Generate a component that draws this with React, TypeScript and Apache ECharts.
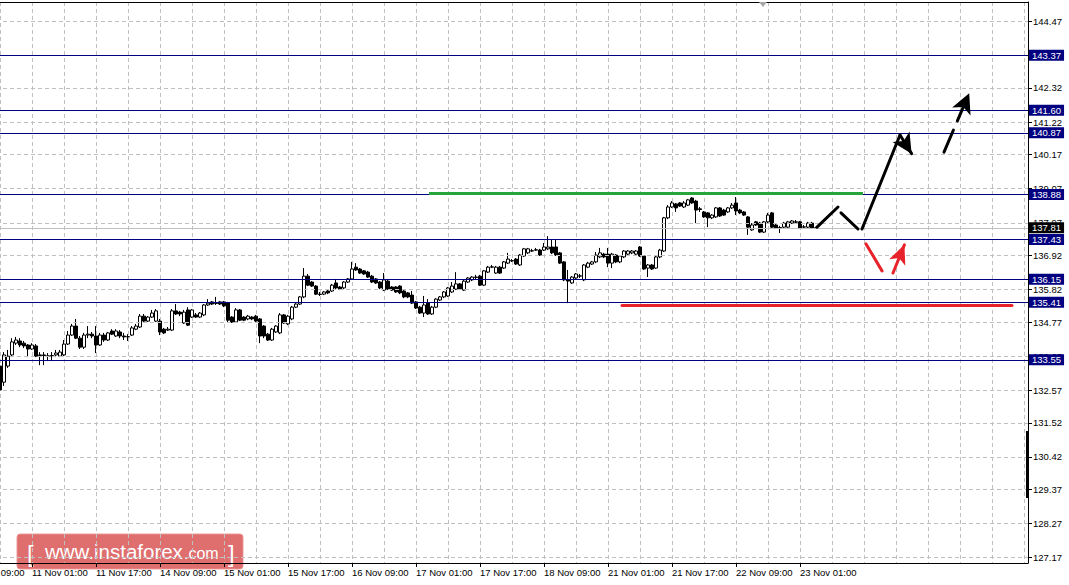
import React, { useEffect, useRef } from "react";
import * as echarts from "echarts";

// ---------- data ----------
const LEAD = 8; // hourly slots left of the visible window (off-screen)
const SLOTS = 266; // total hourly slots on the time axis (incl. empty chart shift)
const YMIN = 127.0;
const YMAX = 145.09;

const timeTickLabels = [
  "10 Nov 09:00", "11 Nov 01:00", "11 Nov 17:00", "14 Nov 09:00", "15 Nov 01:00",
  "15 Nov 17:00", "16 Nov 09:00", "17 Nov 01:00", "17 Nov 17:00", "18 Nov 09:00",
  "21 Nov 01:00", "21 Nov 17:00", "22 Nov 09:00", "23 Nov 01:00",
];

const priceTicks = [
  144.47, 143.37, 142.32, 141.22, 140.17, 139.07, 137.97, 136.92, 135.82,
  134.77, 133.67, 132.57, 131.52, 130.42, 129.37, 128.27, 127.17,
];

const levels = [143.37, 141.6, 140.87, 138.88, 137.43, 136.15, 135.41, 133.55];
const bidPrice = 137.81;

// horizontal zones [fromBar, toBar, price]
const greenZone = [107.25, 215.75, 138.93];
const redZone = [155.5, 253, 135.32];

// projected path, [bar, price] pairs
const blackStrokes = [
  [[204.25, 137.83], [209.5, 138.48]],
  [[210.25, 138.29], [214.5, 137.77]],
  [[215.5, 137.77], [225, 140.8]],
];
const blackArrows = [[[225, 140.8], [227.9, 140.2]]];
const blackDashedArrows = [[[236, 140.25], [242.3, 142.15]]];
const redStrokes = [[[216.5, 137.29], [220.5, 136.42]]];
const redArrows = [[[223.25, 136.35], [226.1, 137.26]]];

// hourly candles: [open, close, low, high]
const ohlc = [
  [133.35, 132.58, 132.38, 133.45], [132.83, 133.71, 132.71, 133.8], [133.35, 133.67, 133.29, 133.87], [133.71, 134.13, 133.67, 134.25], [134.09, 134.19, 134.03, 134.29],
  [134.16, 134.03, 133.96, 134.25], [134.09, 134.0, 133.93, 134.16], [134.03, 133.9, 133.64, 134.06], [133.9, 134.03, 133.87, 134.09], [134.0, 133.67, 133.64, 134.06],
  [133.71, 133.69, 133.38, 133.8], [133.69, 133.71, 133.38, 133.8], [133.67, 133.68, 133.51, 133.77], [133.67, 133.69, 133.51, 133.8], [133.71, 133.77, 133.64, 133.87],
  [133.67, 133.8, 133.64, 133.87], [133.71, 134.06, 133.67, 134.19], [134.06, 134.35, 134.03, 134.48], [134.35, 134.64, 134.32, 134.71], [134.64, 134.25, 134.22, 134.87],
  [134.25, 133.96, 133.9, 134.32], [133.96, 134.35, 133.9, 134.42], [134.35, 134.38, 134.25, 134.64], [134.38, 134.32, 134.25, 134.45], [134.32, 134.03, 133.77, 134.64],
  [134.03, 134.35, 134.0, 134.42], [134.35, 134.19, 134.13, 134.42], [134.19, 134.42, 134.16, 134.45], [134.48, 134.38, 134.35, 134.54], [134.32, 134.48, 134.29, 134.54],
  [134.45, 134.32, 134.25, 134.51], [134.32, 134.29, 134.19, 134.42], [134.29, 134.3, 134.16, 134.38], [134.35, 134.58, 134.32, 134.64], [134.54, 134.64, 134.51, 134.71],
  [134.61, 134.96, 134.58, 135.03], [134.96, 134.8, 134.77, 135.03], [134.8, 134.93, 134.77, 134.96], [134.93, 135.06, 134.9, 135.16], [134.8, 135.13, 134.77, 135.19],
  [134.8, 134.45, 134.35, 134.87], [134.54, 134.42, 134.38, 134.58], [134.51, 134.54, 134.48, 134.61], [134.51, 135.13, 134.48, 135.19], [135.13, 135.03, 135.0, 135.35],
  [135.09, 135.03, 134.96, 135.13], [134.74, 135.09, 134.71, 135.16], [135.16, 134.67, 134.64, 135.25], [134.93, 135.16, 134.9, 135.19], [135.0, 134.93, 134.9, 135.06],
  [134.93, 135.06, 134.9, 135.09], [135.0, 135.32, 134.96, 135.35], [135.32, 135.38, 135.29, 135.51], [135.42, 135.35, 135.32, 135.45], [135.37, 135.38, 135.32, 135.58],
  [135.42, 135.35, 135.32, 135.45], [135.42, 135.29, 135.25, 135.45], [135.38, 134.83, 134.74, 135.42], [134.93, 134.77, 134.74, 134.96], [134.77, 135.16, 134.74, 135.22],
  [135.16, 134.83, 134.8, 135.19], [134.93, 134.83, 134.8, 134.96], [134.87, 134.96, 134.83, 135.0], [134.93, 134.87, 134.83, 134.96], [134.96, 134.8, 134.77, 135.0],
  [134.87, 134.32, 134.09, 134.9], [134.64, 134.32, 134.25, 134.67], [134.38, 134.19, 134.16, 134.42], [134.19, 134.54, 134.16, 134.58], [134.45, 134.64, 134.42, 134.67],
  [134.42, 135.0, 134.38, 135.06], [135.0, 134.74, 134.71, 135.03], [134.71, 134.96, 134.67, 135.0], [134.87, 135.25, 134.83, 135.29], [135.25, 135.35, 135.22, 135.38],
  [135.35, 135.58, 135.32, 135.61], [135.58, 136.25, 135.54, 136.51], [136.25, 135.96, 135.93, 136.32], [136.06, 135.93, 135.9, 136.09], [135.93, 135.67, 135.64, 135.96],
  [135.67, 135.66, 135.61, 135.74], [135.67, 135.74, 135.64, 135.77], [135.77, 135.71, 135.67, 135.8], [135.77, 135.96, 135.74, 136.0], [136.03, 135.87, 135.83, 136.16],
  [135.9, 135.83, 135.8, 135.93], [135.87, 136.06, 135.83, 136.09], [136.06, 136.16, 136.03, 136.19], [136.16, 136.48, 136.13, 136.71], [136.54, 136.45, 136.42, 136.67],
  [136.48, 136.35, 136.32, 136.51], [136.42, 136.32, 136.29, 136.45], [136.38, 136.22, 136.19, 136.42], [136.25, 136.06, 136.03, 136.29], [136.16, 136.03, 136.0, 136.19],
  [136.06, 135.87, 135.83, 136.09], [135.8, 136.13, 135.77, 136.35], [136.09, 135.83, 135.8, 136.13], [135.9, 135.8, 135.77, 135.93], [135.9, 135.74, 135.71, 135.93],
  [135.93, 135.71, 135.67, 135.96], [135.77, 135.58, 135.54, 135.8], [135.71, 135.58, 135.54, 135.74], [135.64, 135.38, 135.35, 135.77], [135.42, 135.22, 135.19, 135.45],
  [135.25, 135.06, 135.03, 135.29], [135.06, 135.32, 134.93, 135.61], [135.38, 135.03, 135.0, 135.51], [135.03, 135.25, 135.0, 135.29], [135.25, 135.51, 135.22, 135.54],
  [135.48, 135.58, 135.45, 135.61], [135.58, 135.74, 135.54, 135.77], [135.61, 135.87, 135.58, 135.9], [135.74, 135.93, 135.71, 136.06], [135.83, 136.0, 135.8, 136.38],
  [136.0, 135.83, 135.8, 136.03], [135.8, 136.09, 135.77, 136.13], [136.06, 136.19, 136.03, 136.22], [136.13, 136.22, 136.09, 136.25], [136.22, 136.21, 136.16, 136.29],
  [136.25, 135.96, 135.93, 136.29], [135.96, 136.42, 135.93, 136.45], [136.38, 136.54, 136.35, 136.58], [136.54, 136.55, 136.51, 136.61], [136.35, 136.54, 136.32, 136.58],
  [136.54, 136.35, 136.32, 136.58], [136.51, 136.71, 136.48, 136.74], [136.67, 136.8, 136.64, 137.0], [136.74, 136.75, 136.71, 136.8], [136.8, 136.64, 136.61, 136.83],
  [136.61, 136.93, 136.58, 136.96], [136.9, 137.13, 136.87, 137.16], [137.0, 137.13, 136.96, 137.16], [137.06, 137.07, 137.03, 137.13], [137.09, 137.1, 137.06, 137.16],
  [137.09, 136.93, 136.9, 137.13], [137.09, 137.19, 137.06, 137.32], [137.13, 137.19, 137.09, 137.54], [137.19, 137.0, 136.96, 137.42], [137.19, 136.93, 136.9, 137.42],
  [137.0, 136.67, 136.64, 137.03], [136.71, 136.13, 136.09, 136.74], [136.13, 136.09, 135.38, 136.45], [136.03, 136.22, 136.0, 136.25], [136.19, 136.32, 136.16, 136.35],
  [136.25, 136.26, 136.19, 136.32], [136.13, 136.61, 136.09, 136.64], [136.54, 136.67, 136.51, 136.71], [136.64, 136.71, 136.61, 136.74], [136.71, 136.93, 136.67, 137.03],
  [136.87, 137.0, 136.83, 137.16], [136.96, 136.87, 136.83, 137.0], [136.96, 136.67, 136.54, 137.16], [136.67, 136.96, 136.51, 137.0], [136.93, 136.71, 136.67, 136.96],
  [136.71, 136.9, 136.67, 136.93], [136.87, 137.06, 136.83, 137.09], [136.96, 137.06, 136.93, 137.09], [137.0, 137.06, 136.96, 137.09], [136.96, 137.06, 136.93, 137.09],
  [137.19, 136.9, 136.87, 137.22], [136.9, 136.48, 136.45, 136.93], [136.51, 136.61, 136.22, 136.64], [136.61, 136.48, 136.45, 136.64], [136.51, 136.87, 136.48, 136.9],
  [136.87, 137.09, 136.83, 137.13], [137.06, 138.13, 137.03, 138.16], [138.13, 138.48, 138.09, 138.54], [138.48, 138.61, 138.45, 138.67], [138.58, 138.45, 138.32, 138.61],
  [138.61, 138.51, 138.48, 138.64], [138.48, 138.61, 138.45, 138.67], [138.54, 138.71, 138.51, 138.74], [138.77, 138.61, 138.58, 138.8], [138.67, 138.38, 137.96, 138.71],
  [138.42, 138.4, 138.32, 138.48], [138.32, 138.16, 138.13, 138.35], [138.29, 138.13, 137.83, 138.32], [138.13, 138.22, 138.09, 138.25], [138.16, 138.45, 138.13, 138.48],
  [138.45, 138.19, 138.16, 138.48], [138.38, 138.22, 138.19, 138.42], [138.32, 138.45, 138.29, 138.48], [138.45, 138.54, 138.42, 138.61], [138.61, 138.35, 138.22, 138.8],
  [138.38, 138.29, 138.25, 138.42], [138.32, 138.22, 138.19, 138.35], [138.16, 137.83, 137.58, 138.19], [137.74, 137.9, 137.71, 137.96], [138.0, 137.9, 137.87, 138.03],
  [137.96, 137.67, 137.64, 138.0], [137.67, 138.0, 137.64, 138.03], [138.0, 138.22, 137.96, 138.29], [138.29, 137.83, 137.8, 138.32], [137.9, 137.8, 137.77, 137.93],
  [137.8, 137.82, 137.64, 137.87], [137.83, 137.96, 137.8, 138.0], [137.83, 138.0, 137.8, 138.03], [137.96, 138.03, 137.93, 138.06], [138.0, 137.99, 137.93, 138.06],
  [138.0, 137.8, 137.77, 138.03], [137.83, 137.84, 137.8, 137.9], [137.83, 137.96, 137.8, 138.0], [137.96, 137.8, 137.77, 138.0], [137.8, 137.81, 137.77, 137.84],
];

// ---------- styles ----------
const FONT = "Tahoma, 'Liberation Sans', Arial, sans-serif";
const GRID_GREY = "#c0c0c0";
const NAVY = "#000080";

const seg = (pts: number[][], lineStyle: any, endSymbol?: any) => [
  { coord: pts[0], symbol: "none", lineStyle },
  endSymbol
    ? { coord: pts[1], symbol: "arrow", symbolSize: endSymbol }
    : { coord: pts[1], symbol: "none" },
];

export default function App() {
  const ref = useRef<HTMLDivElement>(null);

  useEffect(() => {
    const chart = echarts.init(ref.current!, null, { renderer: "svg" });

    const slots = Array.from({ length: SLOTS }, (_, k) => String(k));
    const isLabelSlot = (idx: number) => idx % 16 === 0 && idx / 16 < timeTickLabels.length;

    const gridMarks = priceTicks.map((v) => ({
      yAxis: v,
      label: { formatter: v.toFixed(2) },
    }));

    const boxLabel = (text: string, bg: string) => ({
      show: true,
      position: "end",
      distance: 1,
      formatter: text,
      color: "#fff",
      backgroundColor: bg,
      padding: [1, 3, 0, 3],
      fontSize: 9.5,
      fontFamily: FONT,
    });

    const levelMarks: any[] = [
      {
        yAxis: bidPrice,
        lineStyle: { color: GRID_GREY, width: 1, type: "solid" },
        label: boxLabel(bidPrice.toFixed(2), "#000"),
      },
      ...levels.map((v) => ({
        yAxis: v,
        lineStyle: { color: NAVY, width: 1, type: "solid" },
        label: boxLabel(v.toFixed(2), NAVY),
      })),
    ];

    const greenStyle = { color: "#26a53a", width: 3, type: "solid" };
    const redStyle = { color: "#e8222a", width: 3, type: "solid", cap: "round" };
    const blackStyle = { color: "#000", width: 3, type: "solid", cap: "round" };
    const blackDashed = { color: "#000", width: 3, type: [24, 10], cap: "round" };

    const withColor = (s: any[], color: string) => {
      s[1].itemStyle = { color };
      return s;
    };

    const drawMarks: any[] = [
      [
        { coord: [greenZone[0], greenZone[2]], symbol: "none", lineStyle: greenStyle },
        { coord: [greenZone[1], greenZone[2]], symbol: "none" },
      ],
      [
        { coord: [redZone[0], redZone[2]], symbol: "none", lineStyle: redStyle },
        { coord: [redZone[1], redZone[2]], symbol: "none" },
      ],
      ...blackStrokes.map((p) => seg(p, blackStyle)),
      ...blackArrows.map((p) => withColor(seg(p, blackStyle, [15, 20]), "#000")),
      ...blackDashedArrows.map((p) => withColor(seg(p, blackDashed, [15, 20]), "#000")),
      ...redStrokes.map((p) => seg(p, redStyle)),
      ...redArrows.map((p) => withColor(seg(p, redStyle, [13, 19]), "#e8222a")),
    ];

    const wmFont = (px: number) => `${px}px 'Liberation Sans', Arial, sans-serif`;

    const option: any = {
      animation: false,
      backgroundColor: "#ffffff",
      textStyle: { fontFamily: FONT },
      grid: {
        left: -32,
        top: 2,
        width: 1060,
        height: 561,
        containLabel: false,
        outerBoundsMode: "none",
      },
      xAxis: [
        {
          type: "category",
          data: slots,
          boundaryGap: false,
          position: "bottom",
          axisLine: { show: true, onZero: false, lineStyle: { color: "#000", width: 1 } },
          axisTick: { show: true, interval: (idx: number) => isLabelSlot(idx), length: 4, lineStyle: { color: "#000" } },
          axisLabel: {
            show: true,
            interval: (idx: number) => isLabelSlot(idx),
            formatter: (_v: string, idx: number) => timeTickLabels[idx / 16] ?? "",
            align: "left",
            margin: 4,
            color: "#000",
            fontSize: 9.5,
            fontFamily: FONT,
          },
          splitLine: {
            show: true,
            interval: (idx: number) => idx % 8 === 0,
            lineStyle: { color: GRID_GREY, type: [4, 3], width: 1 },
          },
        },
        {
          type: "value",
          min: -LEAD,
          max: SLOTS - 1 - LEAD,
          position: "top",
          axisLine: { show: true, onZero: false, lineStyle: { color: "#000", width: 1 } },
          axisTick: { show: false },
          axisLabel: { show: false },
          splitLine: { show: false },
        },
      ],
      yAxis: {
        type: "value",
        position: "right",
        min: YMIN,
        max: YMAX,
        axisLine: { show: true, onZero: false, lineStyle: { color: "#000", width: 1 } },
        axisTick: { show: true, customValues: priceTicks, length: 4, lineStyle: { color: "#000" } },
        axisLabel: { show: false },
        splitLine: { show: false },
      },
      series: [
        {
          type: "line",
          name: "grid",
          xAxisIndex: 1,
          yAxisIndex: 0,
          data: [],
          z: 1,
          silent: true,
          markLine: {
            silent: true,
            symbol: ["none", "none"],
            lineStyle: { color: GRID_GREY, type: [4, 3], width: 1 },
            label: {
              show: true,
              position: "end",
              distance: 5,
              color: "#000",
              fontSize: 9.5,
              fontFamily: FONT,
            },
            emphasis: { disabled: true },
            data: gridMarks,
          },
        },
        {
          type: "candlestick",
          name: "price",
          xAxisIndex: 0,
          yAxisIndex: 0,
          z: 2,
          barWidth: 3,
          data: ohlc.map((c, i) => [i + LEAD, c[0], c[1], c[2], c[3]]),
          encode: { x: 0, y: [1, 2, 3, 4] },
          itemStyle: {
            color: "#ffffff",
            color0: "#000000",
            borderColor: "#000000",
            borderColor0: "#000000",
            borderColorDoji: "#000000",
            borderWidth: 1,
          },
          silent: true,
        },
        {
          type: "line",
          name: "levels",
          xAxisIndex: 1,
          yAxisIndex: 0,
          data: [],
          z: 3,
          silent: true,
          markLine: {
            silent: true,
            symbol: ["none", "none"],
            label: { show: false },
            emphasis: { disabled: true },
            data: [...levelMarks, ...drawMarks],
          },
        },
      ],
      graphic: [
        {
          type: "polygon",
          shape: { points: [[759, 2], [767, 2], [763, 7]] },
          style: { fill: "#a8a8a8" },
          z: 50,
        },
        {
          type: "rect",
          shape: { x: 1026, y: 431, width: 3, height: 67 },
          style: { fill: "#000" },
          z: 50,
        },
        {
          type: "group",
          z: 100,
          children: [
            {
              type: "rect",
              shape: { x: 17, y: 534, width: 226, height: 35, r: 3 },
              style: { fill: "rgba(216,78,78,0.82)", stroke: "rgba(236,150,150,0.9)", lineWidth: 1 },
            },
            {
              type: "text",
              style: { text: "[", x: 27, y: 553, fill: "#fff", font: wmFont(24), verticalAlign: "middle" },
            },
            {
              type: "text",
              style: { text: "www.instaforex", x: 45, y: 551, fill: "#fff", font: wmFont(20.5), verticalAlign: "middle" },
            },
            {
              type: "text",
              style: { text: ".com", x: 184, y: 553, fill: "#fff", font: wmFont(16), verticalAlign: "middle" },
            },
            {
              type: "text",
              style: { text: "]", x: 228, y: 553, fill: "#fff", font: wmFont(24), verticalAlign: "middle" },
            },
          ],
        },
      ],
    };

    chart.setOption(option);
    return () => chart.dispose();
  }, []);

  return (
    <div
      ref={ref}
      style={{ position: "absolute", left: 0, top: 0, width: 1069, height: 585, background: "#fff" }}
    />
  );
}
